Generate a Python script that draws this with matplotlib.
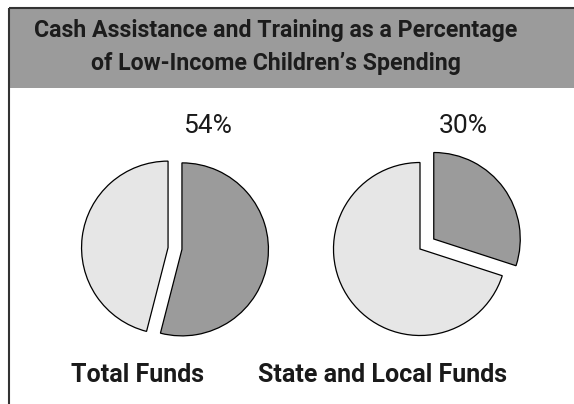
import matplotlib
matplotlib.use("Agg")
import matplotlib.pyplot as plt
from matplotlib.patches import Rectangle

# share of low-income children's spending going to cash assistance and training
groups = ["Total Funds", "State and Local Funds"]
cash_share = [54, 30]
title_lines = ["Cash Assistance and Training as a Percentage",
               "of Low-Income Children\u2019s Spending"]

W, H = 574, 404
DARK = "#9b9b9b"
LIGHT = "#e6e6e6"

fig = plt.figure(figsize=(W / 100, H / 100), dpi=100)
ax = fig.add_axes([0, 0, 1, 1])


def py(y):
    # pixel row (from the top) -> data y
    return H - y


# pie layout: centre x, centre row, explode of the cash slice and the rest
centres = [(175, 248.5), (420, 249)]
explodes = [(7, 7), (17, 0)]
radius = 86.5

for share, (cx, cy), expl in zip(cash_share, centres, explodes):
    ax.pie([share, 100 - share], colors=[DARK, LIGHT], startangle=90,
           counterclock=False, radius=radius, center=(cx, py(cy)),
           explode=list(expl),
           wedgeprops=dict(edgecolor="black", linewidth=0.9))

# value labels
pct_pos = [(207, 126), (463, 126)]
for share, (x, y) in zip(cash_share, pct_pos):
    ax.text(x, py(y), f"{share}%", ha="center", va="center",
            fontsize=19, family="Roboto", color="#1a1a1a")

# group names under the pies
name_pos = [(137.5, 374.5), (383, 374.5)]
for name, (x, y) in zip(groups, name_pos):
    ax.text(x, py(y), name, ha="center", va="center", fontsize=18,
            fontweight="bold", family="Roboto", color="#1a1a1a")

# header band and frame
band_bottom = 88
ax.add_patch(Rectangle((8.5, py(band_bottom)), W, band_bottom - 7.5,
                       facecolor=DARK, edgecolor="none", zorder=0))
ax.plot([8.5, W], [py(7.5), py(7.5)], color="#333333", lw=1.5,
        solid_capstyle="butt")
ax.plot([8.5, 8.5], [py(7.5), 0], color="#333333", lw=1.5,
        solid_capstyle="butt")

for line, base in zip(title_lines, [37, 70]):
    ax.text(276, py(base), line, ha="center", va="baseline", fontsize=16.7,
            fontweight="bold", family="Roboto", color="#1c1c1c")

ax.set_xlim(0, W)
ax.set_ylim(0, H)
ax.set_aspect("equal")
ax.axis("off")

fig.savefig("out.png", dpi=100)
